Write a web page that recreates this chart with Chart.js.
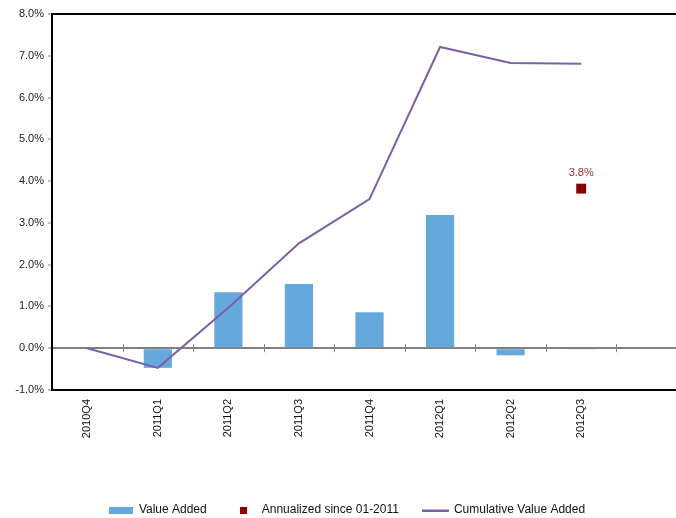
<!DOCTYPE html>
<html>
<head>
<meta charset="utf-8">
<script src="https://cdn.jsdelivr.net/npm/chart.js@4.4.1/dist/chart.umd.min.js"></script>
<style>
    html, body { margin: 0; padding: 0; background: #fff; overflow: hidden; }
    #wrap { width: 676px; height: 518px; overflow: hidden; }
</style>
</head>
<body>
<div id="wrap">
    <canvas id="chart" width="694" height="518"></canvas>
</div>
<script>
// quarters (the last slot is empty, the plot runs past the right edge)
const quarters = ['2010Q4', '2011Q1', '2011Q2', '2011Q3', '2011Q4', '2012Q1', '2012Q2', '2012Q3', ''];
// quarterly value added, %
const valueAdded = [0, -0.47, 1.34, 1.54, 0.86, 3.19, -0.17, -0.02, null];
// cumulative value added, %
const cumulative = [0, -0.47, 0.97, 2.51, 3.57, 7.21, 6.83, 6.81, null];
// annualized since 01-2011, shown only on the last quarter
const annualized = [null, null, null, null, null, null, null, 3.82, null];
const annualizedLabel = '3.8%';

const yTicks = {min: -1, max: 8, step: 1};

const barColor = '#65A9DC';
const lineColor = '#7D5FA6';
const markColor = '#8B0000';
const font = 'Liberation Sans, Arial, sans-serif';

// small pictures for the legend keys
function legendIcon(w, h, draw) {
    const c = document.createElement('canvas');
    c.width = w;
    c.height = h;
    draw(c.getContext('2d'));
    return c;
}
const iconBar = legendIcon(24, 7, ctx => { ctx.fillStyle = barColor; ctx.fillRect(0, 0, 24, 7); });
const iconMark = legendIcon(7, 7, ctx => { ctx.fillStyle = markColor; ctx.fillRect(0, 0, 7, 7); });
const iconLine = legendIcon(27, 3, ctx => { ctx.fillStyle = lineColor; ctx.fillRect(0, 1, 27, 2); });

// zero line ticks between the quarters, top frame line, label over the marker
const extras = {
    id: 'extras',
    afterDatasetsDraw(chart) {
        const ctx = chart.ctx;
        const x = chart.scales.x;
        const y = chart.scales.y;
        const area = chart.chartArea;
        const y0 = y.getPixelForValue(0);

        ctx.save();
        ctx.strokeStyle = '#808080';
        ctx.lineWidth = 1;
        for (let i = 1; i < quarters.length; i++) {
            const px = Math.round((x.getPixelForValue(i - 1) + x.getPixelForValue(i)) / 2) + 0.5;
            ctx.beginPath();
            ctx.moveTo(px, y0 - 4);
            ctx.lineTo(px, y0 + 4);
            ctx.stroke();
        }

        ctx.strokeStyle = '#000';
        ctx.lineWidth = 2;
        ctx.beginPath();
        ctx.moveTo(area.left, area.top);
        ctx.lineTo(area.right, area.top);
        ctx.stroke();

        const meta = chart.getDatasetMeta(1);
        annualized.forEach((v, i) => {
            if (v === null) return;
            const p = meta.data[i];
            ctx.fillStyle = '#A3302E';
            ctx.font = '11px ' + font;
            ctx.textAlign = 'center';
            ctx.textBaseline = 'middle';
            ctx.fillText(annualizedLabel, p.x, p.y - 16);
        });
        ctx.restore();
    }
};

new Chart(document.getElementById('chart'), {
    type: 'bar',
    data: {
        labels: quarters,
        datasets: [
            {
                label: 'Value Added',
                data: valueAdded,
                backgroundColor: barColor,
                barPercentage: 0.4,
                categoryPercentage: 1,
                order: 3,
            },
            {
                type: 'line',
                label: 'Annualized since 01-2011',
                data: annualized,
                showLine: false,
                pointStyle: 'rect',
                pointRadius: 7,
                backgroundColor: markColor,
                borderColor: markColor,
                borderWidth: 0,
                order: 1,
            },
            {
                type: 'line',
                label: 'Cumulative Value Added',
                data: cumulative,
                borderColor: lineColor,
                borderWidth: 2,
                pointRadius: 0,
                fill: false,
                tension: 0,
                order: 2,
            },
        ]
    },
    options: {
        responsive: false,
        animation: false,
        layout: {
            padding: {top: 14, left: 0, right: 0, bottom: -8}
        },
        scales: {
            x: {
                offset: true,
                grid: {
                    display: false,
                },
                border: {
                    color: '#000',
                    width: 2,
                },
                ticks: {
                    color: '#111',
                    font: {family: font, size: 11},
                    minRotation: 90,
                    maxRotation: 90,
                    padding: 1,
                    autoSkip: false,
                },
                afterFit: scale => { scale.height = 89; },
            },
            y: {
                min: yTicks.min,
                max: yTicks.max,
                border: {
                    color: '#000',
                    width: 2,
                },
                grid: {
                    drawOnChartArea: true,
                    color: c => c.tick && c.tick.value === 0 ? '#808080' : 'rgba(0,0,0,0)',
                    lineWidth: c => c.tick && c.tick.value === 0 ? 2 : 0,
                    tickColor: '#808080',
                    tickLength: 4,
                    tickWidth: 1,
                },
                ticks: {
                    stepSize: yTicks.step,
                    color: '#222',
                    font: {family: font, size: 11},
                    padding: 4,
                    callback: v => v.toFixed(1) + '%',
                },
                afterFit: scale => { scale.width = 52; },
            }
        },
        plugins: {
            legend: {
                position: 'bottom',
                labels: {
                    color: '#111',
                    font: {family: font, size: 12},
                    usePointStyle: true,
                    pointStyleWidth: 24,
                    padding: 25,
                    generateLabels: chart => chart.data.datasets.map((ds, i) => ({
                        text: ds.label,
                        pointStyle: [iconBar, iconMark, iconLine][i],
                        fontColor: '#111',
                        datasetIndex: i,
                        hidden: false,
                        lineWidth: 0,
                    })),
                }
            },
            tooltip: {enabled: false},
        }
    },
    plugins: [extras]
});
</script>
</body>
</html>
